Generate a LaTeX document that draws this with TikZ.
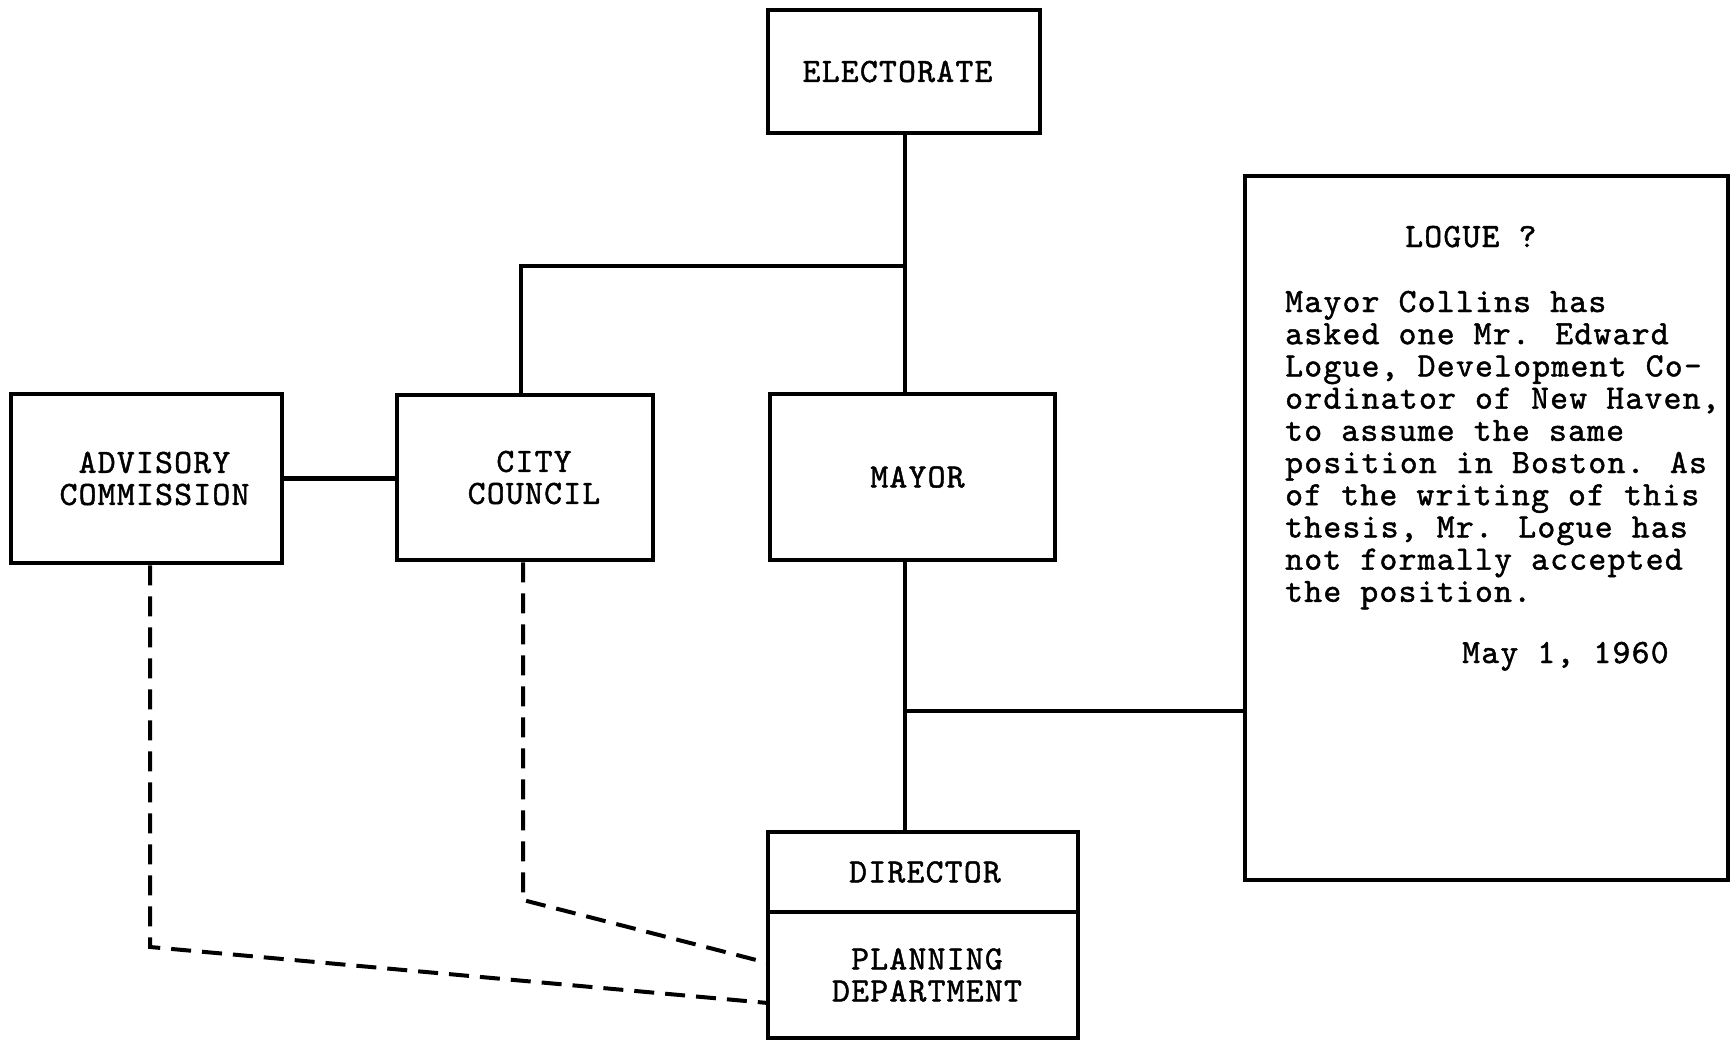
\documentclass[tikz,border=0pt]{standalone}
\usepackage{fontspec}
\newfontfamily\twfont{lmmono10-regular.otf}[FakeBold=1.3,LetterSpace=3.7]
\begin{document}
\begin{tikzpicture}[x=1pt,y=-1pt,
  tw/.style={font=\twfont\fontsize{34}{32}\selectfont},
  orgbox/.style={draw, line width=4.5pt, tw, align=center, inner sep=0pt},
  conn/.style={line width=4.5pt},
  dashline/.style={line width=4pt, dash pattern=on 20pt off 11pt}]
\useasboundingbox (0,0) rectangle (1730,1044);
% boxes
\node[orgbox, minimum width=272, minimum height=123] (elect) at (904,71.5) {ELECTORATE\hspace*{13pt}};
\node[orgbox, minimum width=271, minimum height=169] (adv) at (146.5,478.5) {\hspace*{16pt}ADVISORY\\\hspace*{16pt}COMMISSION};
\node[orgbox, minimum width=256, minimum height=165] (council) at (525,477.5) {\hspace*{18pt}CITY\\\hspace*{18pt}COUNCIL};
\node[orgbox, minimum width=285, minimum height=166] (mayor) at (912.5,477) {\hspace*{10pt}MAYOR};
\node[orgbox, minimum width=310, minimum height=80] (dir) at (923,872) {\hspace*{4pt}DIRECTOR};
\node[orgbox, minimum width=310, minimum height=126] (plan) at (923,975) {\hspace*{8pt}PLANNING\\\hspace*{8pt}DEPARTMENT};
\node[draw, line width=4pt, minimum width=483, minimum height=704, inner sep=0pt] (logue) at (1486,528) {};
% logue text
\node[tw, anchor=base west, inner sep=0pt] (ltitle) at (1405,247) {LOGUE ?};
\foreach \t [count=\i] in {Mayor Collins has,asked one Mr. Edward,{Logue, Development Co-},{ordinator of New Haven,},to assume the same,position in Boston. As,of the writing of this,{thesis, Mr. Logue has},not formally accepted,the position.}{
  \node[tw, anchor=base west, inner sep=0pt] (line\i) at (1285,{312+32.2*(\i-1)}) {\t};
}
\node[tw, anchor=base west, inner sep=0pt] (ldate) at (1462,663) {May 1, 1960};
% connectors
\coordinate (j1) at (905,266);
\coordinate (j1c) at (521,266);
\coordinate (j2) at (905,711);
\draw[conn] (elect.south -| j1) -- (mayor.north -| j1);
\draw[conn] (j1) -- (j1c) -- (council.north -| j1c);
\draw[conn] (adv.east) -- (adv.east -| council.west);
\draw[conn] (mayor.south -| j1) -- (dir.north -| j1);
\draw[conn] (j2) -- (j2 -| logue.west);
% dashed
\coordinate (ac) at (150,947);
\coordinate (ae) at (768,1003);
\coordinate (cc) at (523,900);
\coordinate (ce) at (768,963);
\draw[dashline] (adv.south -| ac) -- (ac) -- (ae);
\draw[dashline] (council.south -| cc) -- (cc) -- (ce);
\end{tikzpicture}
\end{document}
